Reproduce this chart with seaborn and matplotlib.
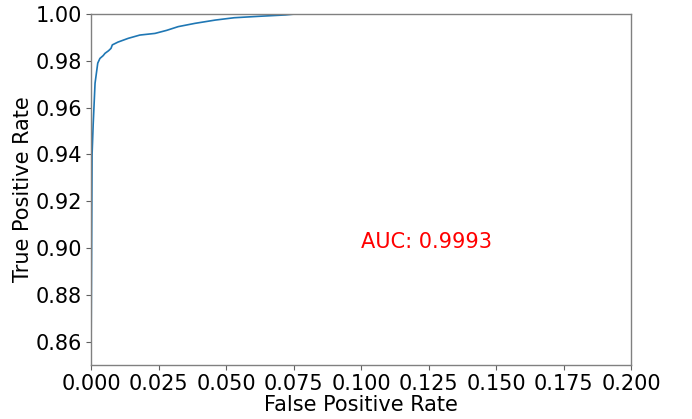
import numpy as np
import pandas as pd
import matplotlib
matplotlib.use("Agg")
import matplotlib.pyplot as plt
import seaborn as sns

# ROC curve points
fpr = [0.0, 0.0, 0.0004, 0.0008, 0.0015, 0.0025, 0.0033, 0.0045, 0.0052, 0.0065,
       0.0074, 0.0079, 0.0100, 0.0138, 0.0181, 0.0237, 0.0280, 0.0323, 0.0385,
       0.0460, 0.0530, 0.0620, 0.0720, 0.0756, 0.1000, 0.1390]
tpr = [0.0, 0.8500, 0.9400, 0.9526, 0.9704, 0.9790, 0.9810, 0.9822, 0.9832, 0.9843,
       0.9853, 0.9868, 0.9880, 0.9896, 0.9910, 0.9917, 0.9930, 0.9946, 0.9960,
       0.9974, 0.9984, 0.9990, 0.9996, 1.0000, 1.0000, 1.0000]
auc_score = 0.9993

df = pd.DataFrame({"fpr": fpr, "tpr": tpr})

sns.set_style("ticks")
plt.rcParams["font.family"] = ["DejaVu Sans"]
plt.rcParams["text.color"] = "black"
plt.rcParams["axes.labelcolor"] = "black"
plt.rcParams["xtick.color"] = "black"
plt.rcParams["ytick.color"] = "black"

fig = plt.figure(figsize=(6.92, 4.19), dpi=100)
ax = fig.add_axes([0.1315, 0.129, 0.7805, 0.8376])

sns.lineplot(data=df, x="fpr", y="tpr", sort=False, estimator=None,
             color="#1f77b4", linewidth=1.2, ax=ax)

ax.set_xlim(0, 0.2)
ax.set_ylim(0.85, 1.0)
ax.set_xticks(np.arange(0, 0.201, 0.025))
ax.set_yticks(np.arange(0.86, 1.001, 0.02))
ax.set_xticklabels([f"{v:.3f}" for v in np.arange(0, 0.201, 0.025)])
ax.set_yticklabels([f"{v:.2f}" for v in np.arange(0.86, 1.001, 0.02)])
ax.tick_params(labelsize=15, length=3.5, width=0.8, pad=3, color="#606060")
ax.set_xlabel("False Positive Rate", fontsize=15, labelpad=1)
ax.set_ylabel("True Positive Rate", fontsize=15, labelpad=2)
for s in ax.spines.values():
    s.set_color("#808080")
    s.set_linewidth(1.0)

ax.text(0.1, 0.9, f"AUC: {auc_score}", color="red", fontsize=15)

plt.savefig("out.png", dpi=100)
